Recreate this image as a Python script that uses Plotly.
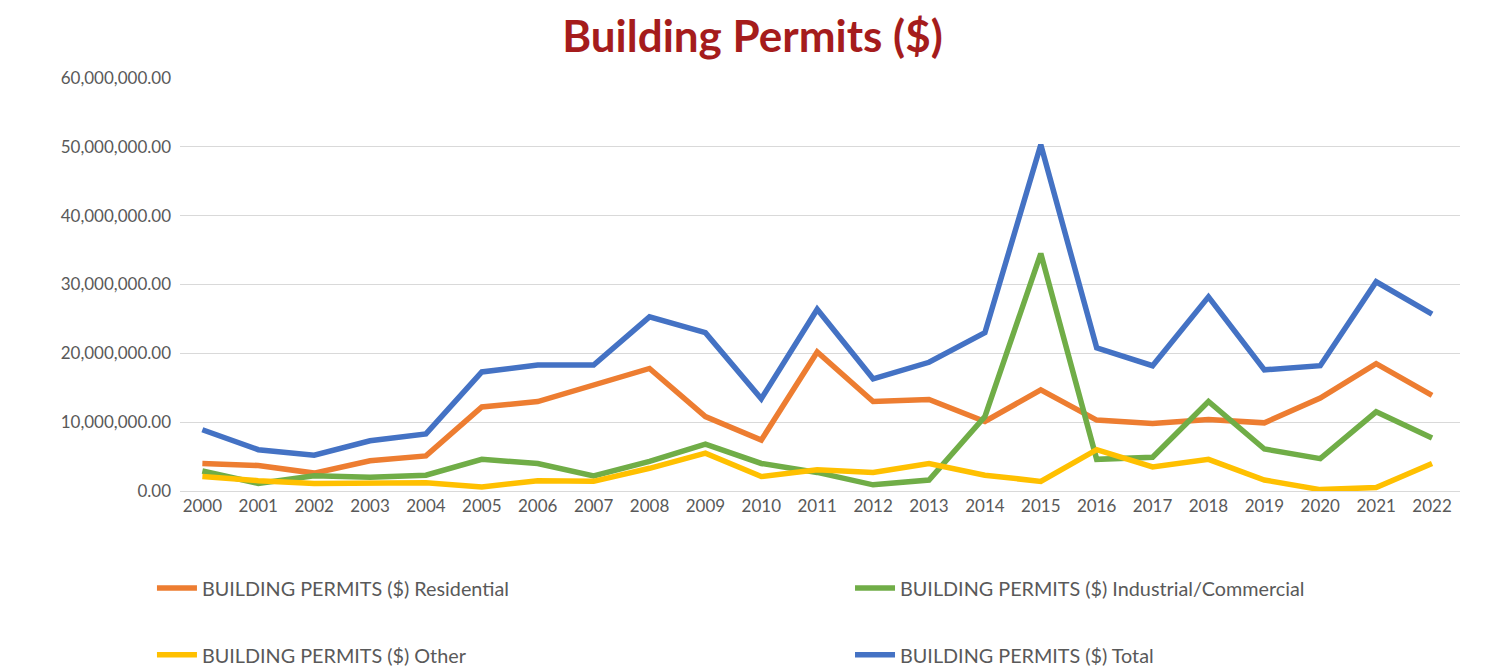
import plotly.graph_objects as go

years = [str(y) for y in range(2000, 2023)]
residential = [4.0, 3.7, 2.6, 4.4, 5.1, 12.2, 13.0, 15.3, 17.8, 10.8, 7.4, 20.2, 13.0, 13.3, 10.1, 14.7, 10.3, 9.8, 10.4, 9.9, 13.5, 18.5, 13.9]
industrial = [2.9, 1.1, 2.2, 2.0, 2.3, 4.6, 4.0, 2.2, 4.3, 6.8, 4.0, 2.7, 0.9, 1.6, 10.8, 34.5, 4.6, 4.9, 13.0, 6.1, 4.7, 11.5, 7.7]
other = [2.1, 1.5, 1.1, 1.1, 1.2, 0.6, 1.5, 1.4, 3.3, 5.5, 2.1, 3.1, 2.7, 4.0, 2.3, 1.4, 6.0, 3.5, 4.6, 1.6, 0.2, 0.5, 4.0]
total = [8.9, 6.0, 5.2, 7.3, 8.3, 17.3, 18.3, 18.3, 25.3, 23.0, 13.4, 26.4, 16.3, 18.7, 23.0, 50.3, 20.8, 18.2, 28.2, 17.6, 18.2, 30.4, 25.7]

series_names = [
    "BUILDING PERMITS ($) Residential",
    "BUILDING PERMITS ($) Industrial/Commercial",
    "BUILDING PERMITS ($) Other",
    "BUILDING PERMITS ($) Total",
]
colors = ["#ED7D31", "#70AD47", "#FFC000", "#4472C4"]
y_ticks = [0, 10e6, 20e6, 30e6, 40e6, 50e6, 60e6]

FONT = "Lato"
GRAY = "#595959"

fig = go.Figure()
data = [residential, industrial, other, total]
legends = ["legend", "legend2", "legend3", "legend4"]
draw_order = [3, 0, 1, 2]
for i in draw_order:
    fig.add_trace(go.Scatter(
        x=years, y=[v * 1e6 for v in data[i]], mode="lines", name=series_names[i],
        line=dict(color=colors[i], width=5.5), legend=legends[i], showlegend=True,
    ))

leg_common = dict(bgcolor="rgba(0,0,0,0)", font=dict(family=FONT, size=19.8, color=GRAY),
                  itemwidth=40, xanchor="left", yanchor="middle", tracegroupgap=0,
                  xref="container", yref="container")
fig.update_layout(
    width=1478, height=660,
    showlegend=True,
    margin=dict(l=172, r=26, t=70, b=177, autoexpand=False),
    paper_bgcolor="white", plot_bgcolor="white",
    title=dict(text="<b>Building Permits ($)</b>", x=0.5037, xanchor="center", y=0.956, yanchor="middle",
               font=dict(family=FONT, size=44, color="#A51C1C")),
    font=dict(family=FONT, size=17, color=GRAY),
    legend=dict(x=0.0974, y=0.1212, **leg_common),
    legend2=dict(x=0.5697, y=0.1212, **leg_common),
    legend3=dict(x=0.0974, y=0.0197, **leg_common),
    legend4=dict(x=0.5697, y=0.0197, **leg_common),
    xaxis=dict(type="category", range=[-0.4, 22.5], showgrid=False, showline=True,
               linecolor="#D9D9D9", linewidth=1, ticks="", tickfont=dict(family=FONT, size=17, color=GRAY)),
    yaxis=dict(range=[0, 60e6], tickvals=y_ticks, tickformat=",.2f", showgrid=True,
               gridcolor="#D9D9D9", gridwidth=1, zeroline=False, showline=False,
               ticklabelstandoff=8,
               tickfont=dict(family=FONT, size=17, color=GRAY)),
)
fig.write_html("out.html")
